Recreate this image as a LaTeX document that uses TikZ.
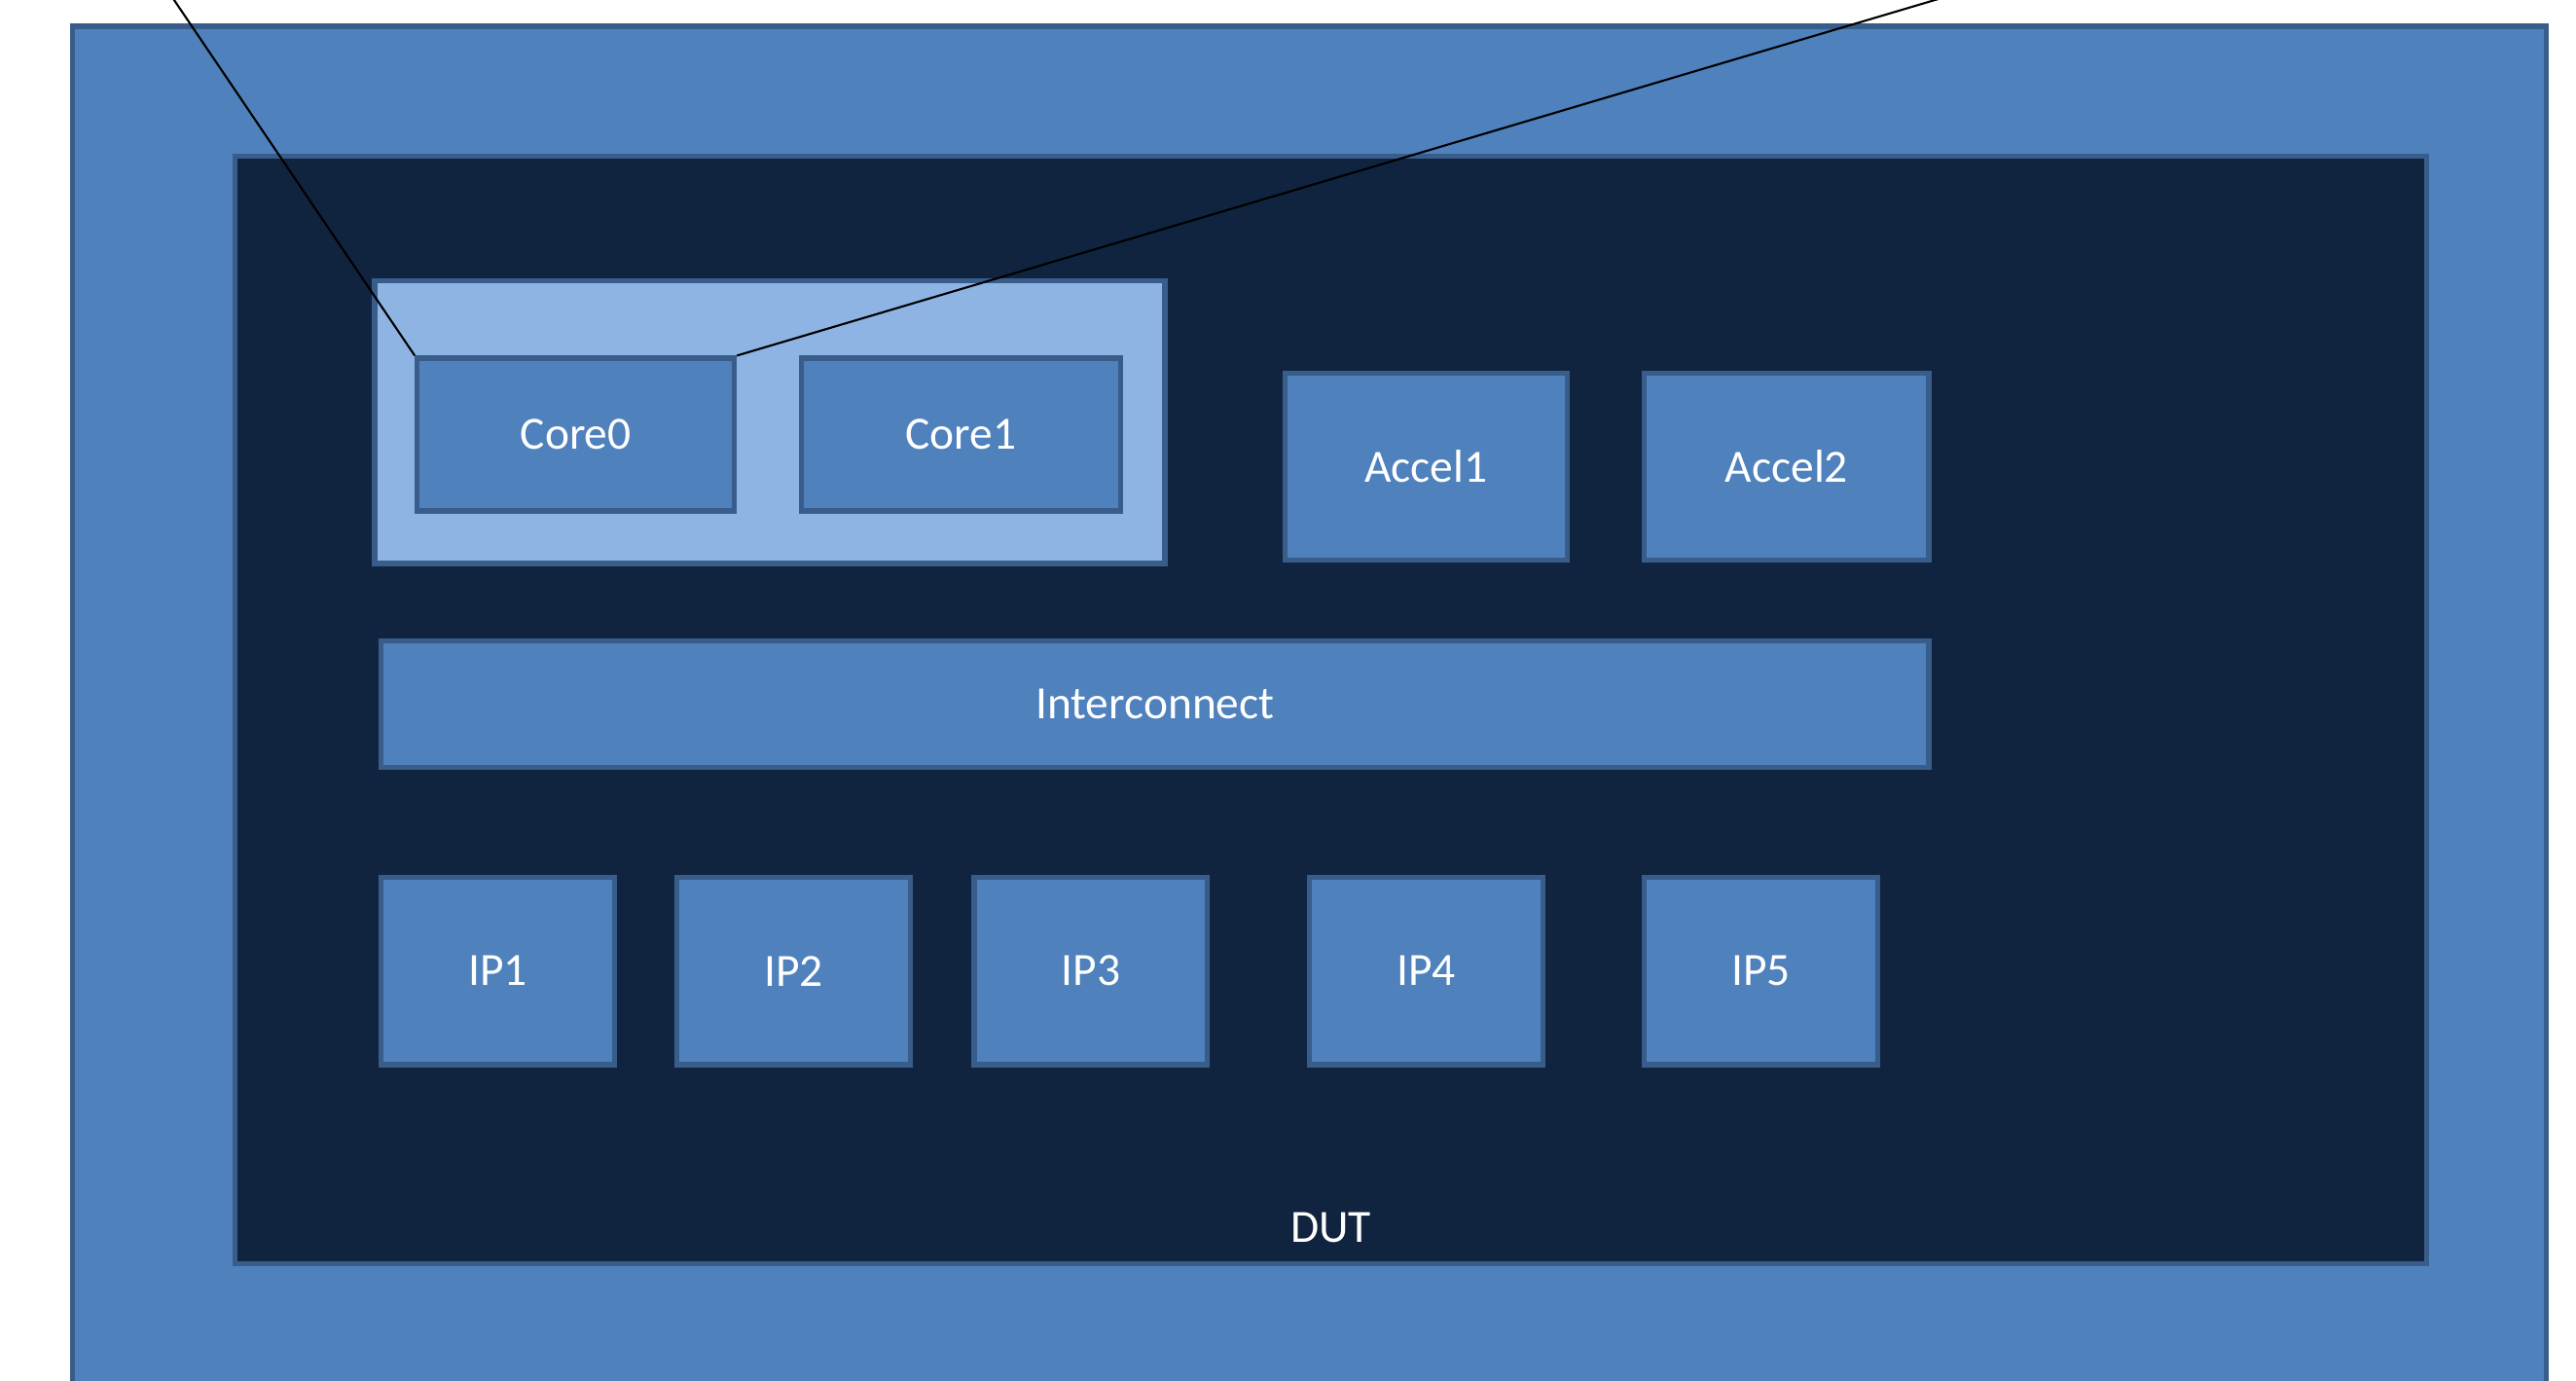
\documentclass[tikz,border=0pt]{standalone}
\usepackage{fontspec}
\setmainfont{Carlito}
\usetikzlibrary{fit}
\definecolor{midblue}{HTML}{4F81BD}
\definecolor{edgeblue}{HTML}{385D8A}
\definecolor{darkblue}{HTML}{10243F}
\definecolor{lightblue}{HTML}{8EB4E3}
\tikzset{
  blk/.style={draw=edgeblue, line width=1.5pt, fill=midblue, inner sep=0pt},
  dutbox/.style={draw=edgeblue, line width=1.5pt, fill=darkblue, inner sep=0pt},
  clusterbox/.style={draw=edgeblue, line width=1.5pt, fill=lightblue, inner sep=0pt},
  lbl/.style={text=white, font=\fontsize{13.5}{16}\selectfont},
  wire/.style={draw=black, line width=0.6pt}
}
\begin{document}
\begin{tikzpicture}[x=0.01688cm, y=-0.01688cm]
\useasboundingbox (0,0) rectangle (1568,840);
\clip (0,0) rectangle (1568,840);
\node[blk, fit={(44,16) (1550,900)}] (outer) {};
\node[dutbox, fit={(143,95) (1477,769)}] (dut) {};
\node[lbl] (dutlbl) at (810,747) {DUT};
\node[clusterbox, fit={(228,171) (709,343)}] (cluster) {};
\node[blk, fit={(254,218) (447,311)}, label={[lbl]center:Core0}] (core0) {};
\node[blk, fit={(488,218) (682,311)}, label={[lbl]center:Core1}] (core1) {};
\node[blk, fit={(782,227) (954,341)}, label={[lbl]center:Accel1}] (accel1) {};
\node[blk, fit={(1001,227) (1174,341)}, label={[lbl]center:Accel2}] (accel2) {};
\node[blk, fit={(232,390) (1174,467)}, label={[lbl]center:Interconnect}] (ic) {};
\node[blk, fit={(232,534) (374,648)}, label={[lbl]center:IP1}] (ip1) {};
\node[blk, fit={(412,534) (554,648)}, label={[lbl]center:IP2}] (ip2) {};
\node[blk, fit={(593,534) (735,648)}, label={[lbl]center:IP3}] (ip3) {};
\node[blk, fit={(797,534) (939,648)}, label={[lbl]center:IP4}] (ip4) {};
\node[blk, fit={(1001,534) (1143,648)}, label={[lbl]center:IP5}] (ip5) {};
\coordinate (t1) at (99.2,-10);
\coordinate (t2) at (1211.5,-10);
\draw[wire] (core0.north west) -- (t1);
\draw[wire] (core0.north east) -- (t2);
\end{tikzpicture}
\end{document}
